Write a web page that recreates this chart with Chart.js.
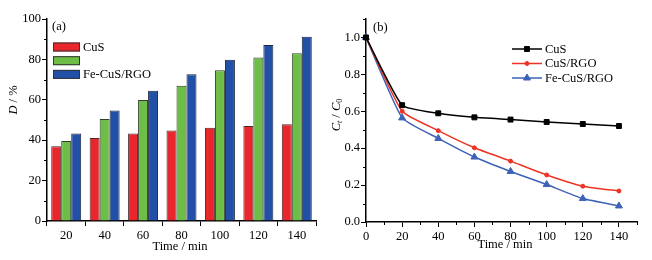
<!DOCTYPE html>
<html>
<head>
<meta charset="utf-8">
<script src="https://cdn.jsdelivr.net/npm/chart.js@4.4.0/dist/chart.umd.min.js"></script>
<style>
  html, body { margin: 0; padding: 0; background: #fff; }
  #wrap { position: relative; width: 652px; height: 260px; }
  #boxA { position: absolute; left: 0; top: 0; }
  #boxB { position: absolute; left: 330px; top: 0; }
</style>
</head>
<body>
<div id="wrap">
  <div id="boxA"><canvas id="barChart" width="330" height="260"></canvas></div>
  <div id="boxB"><canvas id="lineChart" width="322" height="260"></canvas></div>
</div>
<script>
// ---- (a) degradation D / % ----
const barTimes = ["20", "40", "60", "80", "100", "120", "140"];
const cusD = [37.0, 41.1, 43.3, 44.8, 46.2, 47.0, 47.9];
const cusRgoD = [39.6, 50.5, 59.9, 67.0, 74.6, 80.9, 83.0];
const feCusRgoD = [43.3, 54.7, 64.5, 72.6, 79.8, 87.1, 91.2];

// ---- (b) Ct / C0 ----
const lineTimes = [0, 20, 40, 60, 80, 100, 120, 140];
const cusC = [1.0, 0.633, 0.589, 0.567, 0.555, 0.542, 0.531, 0.520];
const cusRgoC = [1.0, 0.600, 0.495, 0.402, 0.330, 0.255, 0.194, 0.168];
const feCusRgoC = [1.0, 0.564, 0.453, 0.352, 0.274, 0.203, 0.127, 0.087];

const SERIF = "'Liberation Serif', 'Times New Roman', serif";
const tickFont = { family: SERIF, size: 12.5 };

// draws minor ticks, titles, panel label and legend
const decor = {
  id: "decor",
  afterDraw(chart, args, opts) {
    const ctx = chart.ctx;
    ctx.save();
    ctx.strokeStyle = "#000";
    ctx.lineWidth = 1;
    // minor ticks
    (opts.minor || []).forEach(m => {
      const s = chart.scales[m.axis];
      for (let v = m.from; v <= m.to + 1e-9; v += m.step) {
        ctx.beginPath();
        if (m.axis === "y") {
          const y = Math.round(s.getPixelForValue(v)) + 0.5;
          ctx.moveTo(s.right, y);
          ctx.lineTo(s.right - 3, y);
        } else {
          const x = Math.round(s.getPixelForValue(v)) + 0.5;
          ctx.moveTo(x, s.top);
          ctx.lineTo(x, s.top + 3);
        }
        ctx.stroke();
      }
    });

    ctx.fillStyle = "#000";
    ctx.textBaseline = "middle";
    // panel label
    ctx.font = "12.5px " + SERIF;
    ctx.textAlign = "left";
    ctx.fillText(opts.panel.text, opts.panel.x, opts.panel.y);

    // x title
    ctx.textAlign = "center";
    ctx.font = "12.5px " + SERIF;
    ctx.fillText(opts.xTitle.text, opts.xTitle.x, opts.xTitle.y);

    // y title (mixed styles)
    ctx.save();
    ctx.translate(opts.yTitle.x, opts.yTitle.y);
    ctx.rotate(-Math.PI / 2);
    ctx.textAlign = "left";
    const parts = opts.yTitle.parts;
    let total = 0;
    parts.forEach(p => { ctx.font = p.font; total += ctx.measureText(p.t).width; });
    let px = -total / 2;
    parts.forEach(p => {
      ctx.font = p.font;
      ctx.fillText(p.t, px, p.dy || 0);
      px += ctx.measureText(p.t).width;
    });
    ctx.restore();

    // legend
    const lg = opts.legend;
    ctx.textAlign = "left";
    ctx.font = "12.5px " + SERIF;
    chart.data.datasets.forEach((ds, i) => {
      const y = lg.y + i * lg.gap;
      if (lg.type === "box") {
        ctx.fillStyle = ds.backgroundColor;
        ctx.fillRect(lg.x, y - 4.5, 27, 9);
        ctx.strokeStyle = "#333";
        ctx.strokeRect(lg.x + 0.5, y - 4, 26, 8);
        ctx.fillStyle = "#000";
        ctx.fillText(ds.label, lg.x + 30, y + 0.5);
      } else {
        ctx.strokeStyle = ds.borderColor;
        ctx.lineWidth = 1.5;
        ctx.beginPath();
        ctx.moveTo(lg.x, y);
        ctx.lineTo(lg.x + 30, y);
        ctx.stroke();
        ctx.fillStyle = ds.pointBackgroundColor;
        ctx.strokeStyle = ds.borderColor;
        ctx.lineWidth = 1;
        Chart.helpers.drawPoint(ctx, { pointStyle: ds.pointStyle, radius: ds.pointRadius, rotation: 0, borderWidth: 1 }, lg.x + 15, y);
        ctx.fillStyle = "#000";
        ctx.fillText(ds.label, lg.x + 33, y + 0.5);
      }
    });
    ctx.restore();
  }
};

function axisOpts(extra) {
  return Object.assign({
    grid: { drawOnChartArea: false, color: "#000", tickColor: "#000", tickLength: 5, tickWidth: 1 },
    border: { color: "#000", width: 1.5 },
    ticks: { color: "#000", font: tickFont, padding: 2 }
  }, extra);
}

new Chart(document.getElementById("barChart"), {
  type: "bar",
  data: {
    labels: barTimes,
    datasets: [
      { label: "CuS", data: cusD, backgroundColor: "#e8262b", borderColor: "#4a2a2a", borderWidth: 1 },
      { label: "", data: cusRgoD, backgroundColor: "#6dbd46", borderColor: "#2f3f2a", borderWidth: 1 },
      { label: "Fe-CuS/RGO", data: feCusRgoD, backgroundColor: "#2250a6", borderColor: "#1a2540", borderWidth: 1 }
    ]
  },
  options: {
    responsive: false,
    animation: false,
    layout: { padding: { left: 0, right: 14, top: 19, bottom: 0 } },
    datasets: { bar: { categoryPercentage: 0.78, barPercentage: 1 } },
    plugins: {
      legend: { display: false },
      tooltip: { enabled: false },
      decor: {
        minor: [{ axis: "y", from: 10, to: 90, step: 20 }],
        panel: { text: "(a)", x: 52, y: 27 },
        xTitle: { text: "Time / min", x: 180, y: 247 },
        yTitle: {
          x: 14, y: 100,
          parts: [
            { t: "D", font: "italic 12.5px " + SERIF },
            { t: " / %", font: "12.5px " + SERIF }
          ]
        },
        legend: { type: "box", x: 53, y: 47, gap: 13.7 }
      }
    },
    scales: {
      x: axisOpts({
        grid: { drawOnChartArea: false, color: "#000", tickLength: 5, offset: true },
        afterFit(s) { s.height = 39; }
      }),
      y: axisOpts({
        min: 0, max: 100,
        ticks: { color: "#000", font: tickFont, padding: 1, stepSize: 20 },
        afterFit(s) { s.width = 47; }
      })
    }
  },
  plugins: [decor]
});

new Chart(document.getElementById("lineChart"), {
  type: "line",
  data: {
    datasets: [
      {
        label: "CuS",
        data: lineTimes.map((t, i) => ({ x: t, y: cusC[i] })),
        borderColor: "#000", pointBackgroundColor: "#000", pointBorderColor: "#000",
        pointStyle: "rect", pointRadius: 3.5
      },
      {
        label: "CuS/RGO",
        data: lineTimes.map((t, i) => ({ x: t, y: cusRgoC[i] })),
        borderColor: "#ee3325", pointBackgroundColor: "#ee3325", pointBorderColor: "#ee3325",
        pointStyle: "circle", pointRadius: 2
      },
      {
        label: "Fe-CuS/RGO",
        data: lineTimes.map((t, i) => ({ x: t, y: feCusRgoC[i] })),
        borderColor: "#3d62b6", pointBackgroundColor: "#3d62b6", pointBorderColor: "#3d62b6",
        pointStyle: "triangle", pointRadius: 4
      }
    ]
  },
  options: {
    responsive: false,
    animation: false,
    layout: { padding: { left: 0, right: 15, top: 19, bottom: 0 } },
    datasets: { line: { borderWidth: 1.5, tension: 0.15, clip: false, pointBorderWidth: 1 } },
    plugins: {
      legend: { display: false },
      tooltip: { enabled: false },
      decor: {
        minor: [
          { axis: "y", from: 0.1, to: 1.1, step: 0.2 },
          { axis: "x", from: 10, to: 150, step: 20 }
        ],
        panel: { text: "(b)", x: 43, y: 28 },
        xTitle: { text: "Time / min", x: 175, y: 245 },
        yTitle: {
          x: 7, y: 115,
          parts: [
            { t: "C", font: "italic 12.5px " + SERIF },
            { t: "t", font: "italic 8px " + SERIF, dy: 3 },
            { t: " / ", font: "12.5px " + SERIF },
            { t: "C", font: "italic 12.5px " + SERIF },
            { t: "0", font: "8px " + SERIF, dy: 3 }
          ]
        },
        legend: { type: "line", x: 182, y: 49, gap: 14.5 }
      }
    },
    scales: {
      x: axisOpts({
        type: "linear", min: 0, max: 150,
        ticks: { color: "#000", font: tickFont, padding: 2, stepSize: 20, includeBounds: false },
        afterBuildTicks(s) { s.ticks = s.ticks.filter(t => t.value <= 140); },
        afterFit(s) { s.height = 38; }
      }),
      y: axisOpts({
        min: 0, max: 1.1,
        ticks: { color: "#000", font: tickFont, padding: 1, stepSize: 0.2, includeBounds: false, callback: v => v.toFixed(1) },
        afterBuildTicks(s) { s.ticks = s.ticks.filter(t => t.value <= 1.0001); },
        afterFit(s) { s.width = 36; }
      })
    }
  },
  plugins: [decor]
});
</script>
</body>
</html>
